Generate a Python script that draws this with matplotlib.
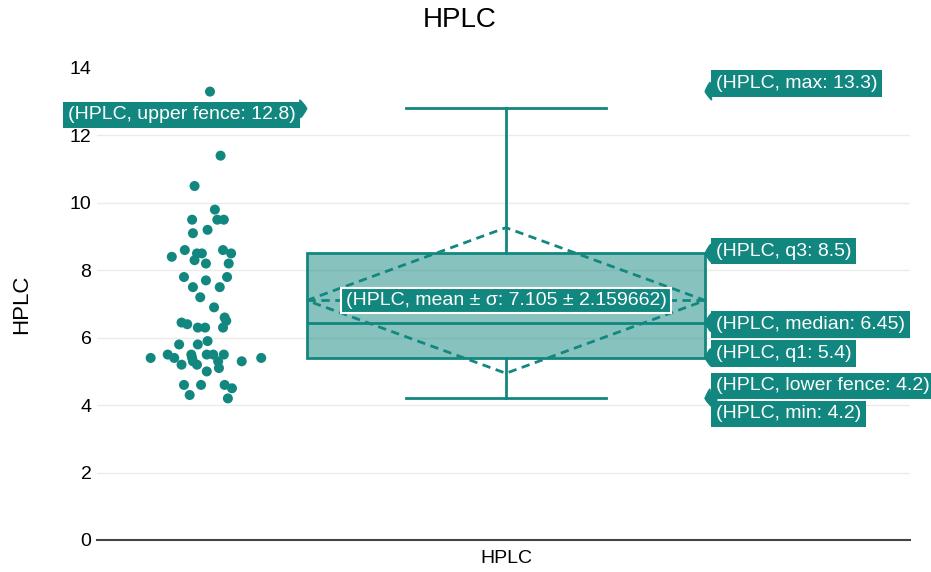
import matplotlib.pyplot as plt
import numpy as np

plt.rcParams['font.family'] = ['Liberation Sans', 'DejaVu Sans']

hplc = [13.3, 11.4, 10.5, 9.8, 9.5, 9.5, 9.5, 9.1, 9.2, 8.6, 8.4, 8.5, 8.5, 8.3, 8.2,
        8.6, 8.5, 8.2, 7.8, 7.7, 7.8, 7.5, 7.5, 7.2, 6.9, 6.6, 6.5, 6.45, 6.4, 6.3,
        6.3, 6.3, 5.9, 5.8, 5.8, 5.4, 5.5, 5.4, 5.5, 5.4, 5.3, 5.2, 5.2, 5.5, 5.5,
        5.5, 5.3, 5.1, 5.3, 5.4, 5.0, 4.6, 4.6, 4.6, 4.5, 4.3, 4.2]
jitter_x = [-0.364, -0.351, -0.383, -0.358, -0.386, -0.355, -0.347, -0.385, -0.367,
            -0.395, -0.411, -0.380, -0.374, -0.383, -0.369, -0.348, -0.338, -0.341,
            -0.396, -0.369, -0.343, -0.385, -0.352, -0.376, -0.359, -0.346, -0.344,
            -0.399, -0.392, -0.379, -0.370, -0.348, -0.367, -0.402, -0.379, -0.437,
            -0.416, -0.408, -0.387, -0.386, -0.385, -0.380, -0.399, -0.368, -0.360,
            -0.347, -0.354, -0.353, -0.325, -0.301, -0.368, -0.396, -0.375, -0.346,
            -0.337, -0.389, -0.342]

# summary stats as shown in the hover labels
name = "HPLC"
q1, median, q3 = 5.4, 6.45, 8.5
lower_fence, upper_fence = 4.2, 12.8
vmin, vmax = 4.2, 13.3
mean, sd = 7.105, 2.159662

teal = '#12877f'

fig = plt.figure(figsize=(9.31, 5.72), dpi=100)
ax = fig.add_axes([97 / 931, 1 - 540 / 572, 813 / 931, 472 / 572])
ax.set_xlim(-0.503, 0.497)
ax.set_ylim(0, 14)

ax.scatter(jitter_x, hplc, s=52, color=teal, edgecolors='none', zorder=3)

stats = [dict(med=median, q1=q1, q3=q3, whislo=lower_fence, whishi=upper_fence,
              mean=mean, fliers=[], label=name)]
ax.bxp(stats, positions=[0], widths=0.49, patch_artist=True, showmeans=False,
       showfliers=False,
       boxprops=dict(facecolor=(0.07, 0.53, 0.5, 0.5), edgecolor=teal, linewidth=2),
       medianprops=dict(color=teal, linewidth=2),
       whiskerprops=dict(color=teal, linewidth=2),
       capprops=dict(color=teal, linewidth=2), capwidths=0.245)

# mean +- sd diamond
hw = 0.245
ax.plot([-hw, 0, hw, 0, -hw], [mean, mean + sd, mean, mean - sd, mean],
        color=teal, lw=2, ls=(0, (3, 2)), zorder=4)
ax.plot([-hw, hw], [mean, mean], color=teal, lw=2, ls=(0, (3, 2)), zorder=4)

ax.set_xticks([0])
ax.set_xticklabels([name], fontsize=14)
ax.set_yticks(range(0, 15, 2))
ax.tick_params(axis='both', length=0, labelsize=14, pad=4)
ax.tick_params(axis='x', pad=7)
ax.grid(axis='y', color='#ebebeb', lw=1)
ax.set_axisbelow(True)
ax.yaxis.get_gridlines()[-1].set_visible(False)
ax.yaxis.get_gridlines()[0].set_visible(False)
for s in ['top', 'right', 'left']:
    ax.spines[s].set_visible(False)
ax.spines['bottom'].set_color('#444444')
ax.spines['bottom'].set_linewidth(1.5)

ax.set_ylabel(name, fontsize=16, labelpad=27)
fig.text(460 / 931, 1 - 20 / 572, name, fontsize=20, ha='center', va='center')

# hover-style labels
box_kw = dict(boxstyle='square,pad=0.25', fc=teal, ec='none')
arrow_kw = dict(arrowstyle='wedge,tail_width=0.9,shrink_factor=0.6', color=teal,
                shrinkA=0, shrinkB=0)
right_labels = [("max", vmax, 13.53), ("q3", q3, 8.57), ("median", median, 6.39),
                ("q1", q1, 5.53), ("lower fence", lower_fence, 4.57), ("min", vmin, 3.74)]
for key, val, ypos in right_labels:
    ax.annotate(f"({name}, {key}: {val:g})", xy=(hw, val), xytext=(0.258, ypos),
                ha='left', va='center', color='white', fontsize=14,
                bbox=box_kw, arrowprops=arrow_kw, zorder=6)

ax.annotate(f"({name}, upper fence: {upper_fence:g})", xy=(-hw, upper_fence),
            xytext=(-0.259, 12.61), ha='right', va='center', color='white',
            fontsize=14, bbox=box_kw, arrowprops=arrow_kw, zorder=6,
            annotation_clip=False)

ax.text(0, mean, f"({name}, mean ± σ: {mean} ± {sd})", ha='center', va='center',
        color='white', fontsize=14, zorder=6,
        bbox=dict(boxstyle='square,pad=0.22', fc=teal, ec='white', lw=1.5))

fig.savefig('out.png', dpi=100)
